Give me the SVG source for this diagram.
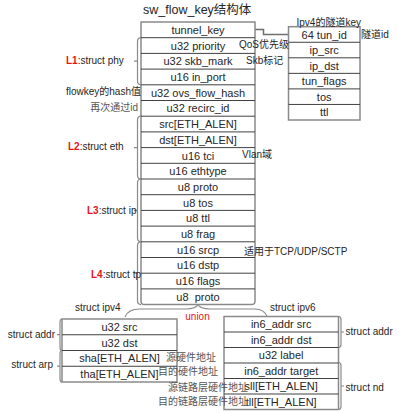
<svg xmlns="http://www.w3.org/2000/svg" width="409" height="413" viewBox="0 0 409 413">
<style>
text{font-family:"Liberation Sans","Noto Sans CJK SC",sans-serif;fill:#262626;dominant-baseline:central}
.r{font-size:11px;text-anchor:middle}
.l{font-size:10px}
.e{text-anchor:end}
.g{fill:#555}
.red{fill:#e8141b;font-weight:bold}
.box{fill:#fff;stroke:#8a8a8a;stroke-width:1.5}
.sep{stroke:#404040;stroke-width:1}
.br{fill:none;stroke:#8a8a8a;stroke-width:1.2}
.cn{fill:none;stroke:#6e6e6e;stroke-width:1.5}
</style>
<rect width="409" height="413" fill="#fff"/>
<text x="143" y="10" style="font-size:12.5px">sw_flow_key结构体</text>

<g id="connectors">
<path class="cn" d="M255,29.5 H263.5 V34.5 H288.5"/>
<path class="br" d="M141,37.7 Q137.5,37.7 137.5,41.7 V80.8 Q137.5,84.8 141,84.8 M137.5,61.2 H134"/>
<path class="br" d="M141,116.2 Q137.5,116.2 137.5,120.2 V175 Q137.5,179 141,179 M137.5,147.6 H134"/>
<path class="br" d="M141,179 Q137.5,179 137.5,183 V237.8 Q137.5,241.8 141,241.8 M137.5,210.4 H134"/>
<path class="br" d="M141,241.8 Q137.5,241.8 137.5,245.8 V300.6 Q137.5,304.6 141,304.6 M137.5,273.2 H134"/>
<path class="br" d="M125,317 Q128,309 140,309 H186 Q196,309 198,304.6 Q200,309 210,309 H255 Q264,309 267,316.5"/>
<path class="br" d="M62,319 Q60,319 60,322 V347.5 Q60,350.5 62,350.5 M60,334.7 H57"/>
<path class="br" d="M62,350.5 Q60,350.5 60,353.5 V379 Q60,382 62,382 M60,366.2 H57"/>
<path class="br" d="M338.5,316.5 Q341,316.5 341,319.5 V344.5 Q341,347.5 338.5,347.5 M341,332 H344"/>
<path class="br" d="M338.5,362.5 Q341,362.5 341,365.5 V406.5 Q341,409.5 338.5,409.5 M341,386 H344"/>
</g>

<g id="sw_flow_key">
<path class="box" d="M141,22 H255 V301 Q255,304.6 251.5,304.6 H144.5 Q141,304.6 141,301 Z"/>
<path class="sep" d="M141,37.7H255M141,53.4H255M141,69.1H255M141,84.8H255M141,100.5H255M141,116.2H255M141,131.9H255M141,147.6H255M141,163.3H255M141,179H255M141,194.7H255M141,210.4H255M141,226.1H255M141,241.8H255M141,257.5H255M141,273.2H255M141,288.9H255"/>
<text class="r" x="198" y="29.9">tunnel_key</text>
<text class="r" x="198" y="45.6">u32 priority</text>
<text class="r" x="198" y="61.3">u32 skb_mark</text>
<text class="r" x="198" y="77">u16 in_port</text>
<text class="r" x="198" y="92.7">u32 ovs_flow_hash</text>
<text class="r" x="198" y="108.4">u32 recirc_id</text>
<text class="r" x="198" y="124.1">src[ETH_ALEN]</text>
<text class="r" x="198" y="139.8">dst[ETH_ALEN]</text>
<text class="r" x="198" y="155.5">u16 tci</text>
<text class="r" x="198" y="171.2">u16 ethtype</text>
<text class="r" x="198" y="186.9">u8 proto</text>
<text class="r" x="198" y="202.6">u8 tos</text>
<text class="r" x="198" y="218.3">u8 ttl</text>
<text class="r" x="198" y="234">u8 frag</text>
<text class="r" x="198" y="249.7">u16 srcp</text>
<text class="r" x="198" y="265.4">u16 dstp</text>
<text class="r" x="198" y="281.1">u16 flags</text>
<text class="r" x="198" y="296.8" style="white-space:pre">u8  proto</text>
</g>

<g id="tunnel_key_box">
<rect class="box" x="288.5" y="26.7" width="71.5" height="93.3"/>
<path class="sep" d="M288.5,42.25H360M288.5,57.8H360M288.5,73.35H360M288.5,88.9H360M288.5,104.45H360"/>
<text class="r" x="324.2" y="34.5">64 tun_id</text>
<text class="r" x="324.2" y="50">ip_src</text>
<text class="r" x="324.2" y="65.6">ip_dst</text>
<text class="r" x="324.2" y="81.1">tun_flags</text>
<text class="r" x="324.2" y="96.7">tos</text>
<text class="r" x="324.2" y="112.2">ttl</text>
</g>

<g id="ipv4_box">
<rect class="box" x="62" y="319" width="115" height="63"/>
<path class="sep" d="M62,334.75H177M62,350.5H177M62,366.25H177"/>
<text class="r" x="119.5" y="326.9">u32 src</text>
<text class="r" x="119.5" y="342.6">u32 dst</text>
<text class="r" x="119.5" y="358.4">sha[ETH_ALEN]</text>
<text class="r" x="119.5" y="374.1">tha[ETH_ALEN]</text>
</g>

<g id="ipv6_box">
<rect class="box" x="224" y="316.5" width="114.5" height="93"/>
<path class="sep" d="M224,332H338.5M224,347.5H338.5M224,363H338.5M224,378.5H338.5M224,394H338.5"/>
<text class="r" x="281.2" y="324.3">in6_addr src</text>
<text class="r" x="281.2" y="339.8">in6_addr dst</text>
<text class="r" x="281.2" y="355.3">u32 label</text>
<text class="r" x="281.2" y="370.8">in6_addr target</text>
<text class="r" x="281.2" y="386.3">sll[ETH_ALEN]</text>
<text class="r" x="281.2" y="401.8">tll[ETH_ALEN]</text>
</g>

<g id="labels">
<text class="l" x="66" y="60"><tspan class="red">L1</tspan>:struct phy</text>
<text class="l" x="68" y="146"><tspan class="red">L2</tspan>:struct eth</text>
<text class="l" x="87" y="210"><tspan class="red">L3</tspan>:struct ip</text>
<text class="l" x="91" y="274"><tspan class="red">L4</tspan>:struct tp</text>
<text class="l e" x="141" y="91.7">flowkey的hash值</text>
<text class="l e g" x="138" y="107.3">再次通过id</text>
<text class="l" x="239" y="44.5">QoS优先级</text>
<text class="l" x="246" y="60">Skb标记</text>
<text class="l" x="296.5" y="22.3">Ipv4的隧道key</text>
<text class="l" x="361" y="34.5">隧道id</text>
<text class="l" x="242" y="154">Vlan域</text>
<text class="l" x="244" y="251">适用于TCP/UDP/SCTP</text>
<text class="l" x="75" y="307">struct ipv4</text>
<text class="l" x="270" y="307">struct ipv6</text>
<text class="l" x="197.5" y="316" style="text-anchor:middle;fill:#e8141b">union</text>
<text class="l e" x="55" y="334.5">struct addr</text>
<text class="l e" x="53" y="364.5">struct arp</text>
<text class="l" x="345.5" y="331">struct addr</text>
<text class="l" x="345.5" y="387">struct nd</text>
<text class="l g" x="166" y="357">源硬件地址</text>
<text class="l g" x="158" y="371.7">目的硬件地址</text>
<text class="l e g" x="248" y="387">源链路层硬件地址</text>
<text class="l e g" x="248" y="401.7">目的链路层硬件地址</text>
</g>
</svg>
